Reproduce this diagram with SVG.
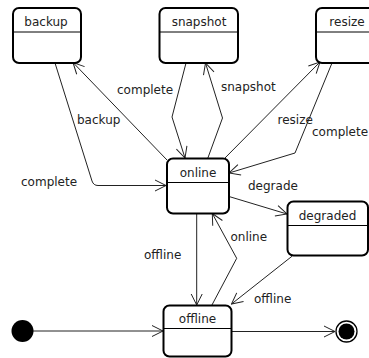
<svg xmlns="http://www.w3.org/2000/svg" width="369" height="358" viewBox="0 0 369 358">
<defs>
<marker id="arr" markerUnits="userSpaceOnUse" viewBox="-12 -7 13 14" markerWidth="13" markerHeight="14" refX="0" refY="0" orient="auto">
<path d="M-11,-5.5 L0,0 L-11,5.5" fill="none" stroke="#222" stroke-width="1"/>
</marker>
</defs>
<style>
.box{fill:#fff;stroke:#000;stroke-width:2}
.div{stroke:#000;stroke-width:1}
.t{font-family:"DejaVu Sans",sans-serif;font-size:12px;fill:#222}
.c{text-anchor:middle}
.e{fill:none;stroke:#222;stroke-width:1;marker-end:url(#arr)}
</style>
<rect width="369" height="358" fill="#fff"/>
<g id="connectors">
<path class="e" d="M167,160 L73,62.5"/>
<path class="e" d="M55,63 L92,181 Q93.5,185.5 98,185.5 L166,185.5"/>
<path class="e" d="M186,63 L172,117 L185,158"/>
<path class="e" d="M207.5,159 L222.5,118 L205.5,63"/>
<path class="e" d="M223,160 L320,62"/>
<path class="e" d="M332,63 L295,153 L229,173"/>
<path class="e" d="M229,196.5 L287,214"/>
<path class="e" d="M196.7,213.5 L196.7,305"/>
<path class="e" d="M211.7,305.5 L236.7,258.3 L212.3,213.5"/>
<path class="e" d="M292.3,256 L231.5,304"/>
<path class="e" d="M33,331 L163,331"/>
<path class="e" d="M231.5,331.5 L335,331.5"/>
<text class="t" x="117" y="94">complete</text>
<text class="t" x="77" y="124">backup</text>
<text class="t" x="21" y="186">complete</text>
<text class="t" x="221" y="91">snapshot</text>
<text class="t" x="277.5" y="124">resize</text>
<text class="t" x="312" y="136">complete</text>
<text class="t" x="248" y="190">degrade</text>
<text class="t" x="230.5" y="241">online</text>
<text class="t" x="144" y="259">offline</text>
<text class="t" x="254" y="303">offline</text>
</g>
<g id="backup">
<rect class="box" x="13" y="8" width="68" height="55" rx="6"/>
<line class="div" x1="13" y1="32" x2="81" y2="32"/>
<text class="t c" x="46" y="26">backup</text>
</g>
<g id="snapshot">
<rect class="box" x="159.5" y="8" width="78.5" height="55" rx="6"/>
<line class="div" x1="159.5" y1="32" x2="238" y2="32"/>
<text class="t c" x="199" y="26">snapshot</text>
</g>
<g id="resize">
<rect class="box" x="316" y="8" width="62" height="55" rx="6"/>
<line class="div" x1="316" y1="32" x2="378" y2="32"/>
<text class="t c" x="347" y="26">resize</text>
</g>
<g id="online">
<rect class="box" x="167" y="158.5" width="62" height="55" rx="6"/>
<line class="div" x1="167" y1="182.5" x2="229" y2="182.5"/>
<text class="t c" x="198" y="177">online</text>
</g>
<g id="degraded">
<rect class="box" x="287.5" y="201.5" width="80.5" height="54" rx="6"/>
<line class="div" x1="287.5" y1="225.5" x2="368" y2="225.5"/>
<text class="t c" x="327.5" y="220">degraded</text>
</g>
<g id="offline">
<rect class="box" x="163.5" y="305.5" width="68" height="51" rx="6"/>
<line class="div" x1="163.5" y1="328.5" x2="231.5" y2="328.5"/>
<text class="t c" x="197.5" y="323">offline</text>
</g>
<g id="initial">
<circle cx="22.5" cy="331" r="11" fill="#000"/>
</g>
<g id="final">
<circle cx="346.5" cy="331.5" r="10.5" fill="#fff" stroke="#000" stroke-width="1.3"/>
<circle cx="346.5" cy="331.5" r="8" fill="#000"/>
</g>
</svg>
